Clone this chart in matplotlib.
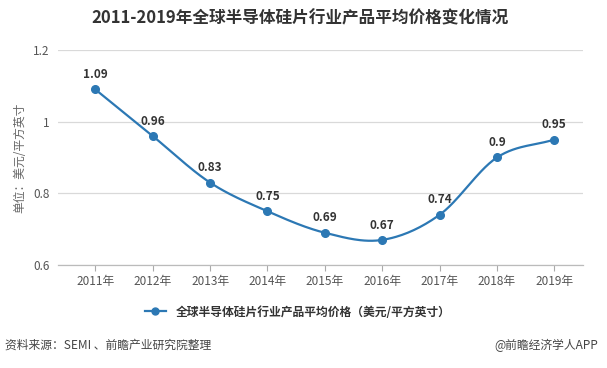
import numpy as np
import matplotlib
matplotlib.use("Agg")
import matplotlib.pyplot as plt

plt.rcParams['font.family'] = ['Noto Sans CJK SC', 'DejaVu Sans']

years = ['2011年', '2012年', '2013年', '2014年', '2015年', '2016年', '2017年', '2018年', '2019年']
prices = [1.09, 0.96, 0.83, 0.75, 0.69, 0.67, 0.74, 0.90, 0.95]
yticks = [0.6, 0.8, 1.0, 1.2]
ytick_labels = ['0.6', '0.8', '1', '1.2']
price_labels = ['1.09', '0.96', '0.83', '0.75', '0.69', '0.67', '0.74', '0.9', '0.95']

line_color = '#2C78B4'


def smooth(xs, ys, n=30):
    # catmull-rom curve through the points
    xs = np.asarray(xs, float)
    ys = np.asarray(ys, float)
    px = np.concatenate([[2 * xs[0] - xs[1]], xs, [2 * xs[-1] - xs[-2]]])
    py = np.concatenate([[2 * ys[0] - ys[1]], ys, [2 * ys[-1] - ys[-2]]])
    out_x, out_y = [], []
    t = np.linspace(0, 1, n)
    for i in range(1, len(px) - 2):
        for p, out in ((px, out_x), (py, out_y)):
            p0, p1, p2, p3 = p[i - 1], p[i], p[i + 1], p[i + 2]
            out.extend(0.5 * ((2 * p1) + (-p0 + p2) * t
                              + (2 * p0 - 5 * p1 + 4 * p2 - p3) * t ** 2
                              + (-p0 + 3 * p1 - 3 * p2 + p3) * t ** 3))
    return np.array(out_x), np.array(out_y)


fig = plt.figure(figsize=(6.07, 3.68), dpi=100)
ax = fig.add_axes([58 / 607, 1 - 265 / 368, (583 - 58) / 607, (265 - 50) / 368])

x = np.arange(len(years))
sx, sy = smooth(x, prices)
ax.plot(sx, sy, color=line_color, lw=1.6, zorder=3)
ax.plot(x, prices, 'o', color=line_color, ms=5.5, zorder=4)
# legend handle
ax.plot([], [], '-o', color=line_color, lw=1.6, ms=5, label='全球半导体硅片行业产品平均价格（美元/平方英寸）')

for xi, v, lab in zip(x, prices, price_labels):
    ax.annotate(lab, (xi, v), xytext=(0, 6), textcoords='offset points',
                ha='center', va='bottom', fontsize=8.5, fontweight='bold', color='#333333')

ax.set_xlim(-0.65, 8.5)
ax.set_ylim(0.6, 1.2)
ax.set_xticks(x)
ax.set_xticklabels(years)
ax.set_yticks(yticks)
ax.set_yticklabels(ytick_labels)
ax.tick_params(axis='x', length=4, color='#aaaaaa', labelsize=8.5, labelcolor='#555555', pad=3)
ax.tick_params(axis='y', length=0, labelsize=8.5, labelcolor='#555555', pad=6)
ax.grid(axis='y', color='#d9d9d9', lw=0.9)
ax.set_axisbelow(True)
for s in ['top', 'right', 'left']:
    ax.spines[s].set_visible(False)
ax.spines['bottom'].set_color('#bbbbbb')
ax.spines['bottom'].set_linewidth(0.9)

ax.set_ylabel('单位：美元/平方英寸', fontsize=8.5, color='#666666', labelpad=5)

fig.text(0.495, 1 - 18 / 368, '2011-2019年全球半导体硅片行业产品平均价格变化情况',
         ha='center', va='center', fontsize=12, fontweight='bold', color='#333333')

fig.legend(loc='center', bbox_to_anchor=(0.49, 1 - 312 / 368), frameon=False,
           prop={'size': 8.5, 'weight': 'bold'}, handlelength=1.8, labelcolor='#333333')

fig.text(5 / 607, 1 - 345 / 368, '资料来源：SEMI 、前瞻产业研究院整理',
         ha='left', va='center', fontsize=8.5, color='#444444')
fig.text(598 / 607, 1 - 345 / 368, '@前瞻经济学人APP',
         ha='right', va='center', fontsize=8.5, color='#444444')

fig.savefig('out.png', dpi=100)
